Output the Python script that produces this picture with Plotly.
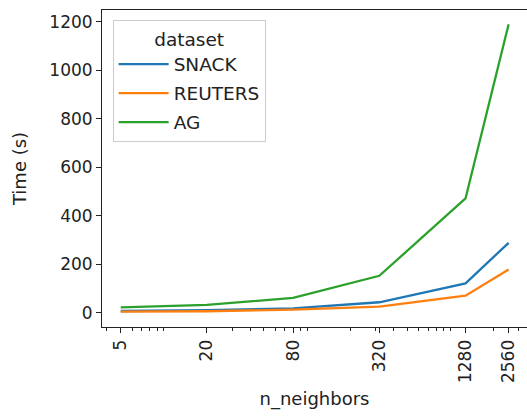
import plotly.graph_objects as go
import numpy as np

n_neighbors = [5, 20, 80, 320, 1280, 2560]
snack = [8, 11, 19, 44, 122, 289]
reuters = [5, 7, 14, 26, 71, 179]
ag = [23, 33, 62, 153, 472, 1190]
series_names = ["SNACK", "REUTERS", "AG"]
colors = ["#1f77b4", "#ff7f0e", "#2ca02c"]
x_ticks = [5, 20, 80, 320, 1280, 2560]
y_ticks = [0, 200, 400, 600, 800, 1000, 1200]

minor = []
for d in [1, 10, 100, 1000]:
    for m in range(1, 10):
        v = m * d
        if 3.7 <= v <= 3440 and v not in x_ticks:
            minor.append(v)

font = "DejaVu Sans"
fig = go.Figure()
for name, vals, c in zip(series_names, [snack, reuters, ag], colors):
    fig.add_trace(go.Scatter(x=n_neighbors, y=vals, mode="lines", name=name,
                             legendgroup=name,
                             line=dict(color=c, width=2.3)))

fig.update_layout(
    width=527, height=416,
    margin=dict(l=102, r=0, t=10, b=89),
    paper_bgcolor="white", plot_bgcolor="white",
    font=dict(family=font, size=17, color="#222"),
    showlegend=True,
    legend=dict(
        title=dict(text="dataset", side="top center", font=dict(size=18.5)),
        x=0.025, y=0.967, xanchor="left", yanchor="top",
        bordercolor="#cccccc", borderwidth=1, bgcolor="rgba(255,255,255,0.8)",
        font=dict(size=18.5), tracegroupgap=2, itemwidth=50,
    ),
    xaxis=dict(
        type="log", range=[np.log10(3.70), np.log10(3440)],
        tickvals=x_ticks, ticktext=[str(v) for v in x_ticks], tickangle=-90,
        ticks="outside", ticklen=5, tickwidth=1, tickcolor="#222",
        tickfont=dict(size=17),
        showline=True, linecolor="#222", linewidth=1, mirror=True,
        showgrid=False, zeroline=False,
        minor=dict(tickvals=minor, ticks="outside", ticklen=3, tickwidth=1, tickcolor="#222", showgrid=False),
        title=dict(text="n_neighbors", font=dict(size=18), standoff=10),
    ),
    yaxis=dict(
        range=[-58, 1249],
        tickvals=y_ticks, ticks="outside", ticklen=5, tickwidth=1, tickcolor="#222",
        tickfont=dict(size=17),
        showline=True, linecolor="#222", linewidth=1, mirror=True,
        showgrid=False, zeroline=False,
        title=dict(text="Time (s)", font=dict(size=18), standoff=18),
    ),
)
fig.write_html("out.html")
